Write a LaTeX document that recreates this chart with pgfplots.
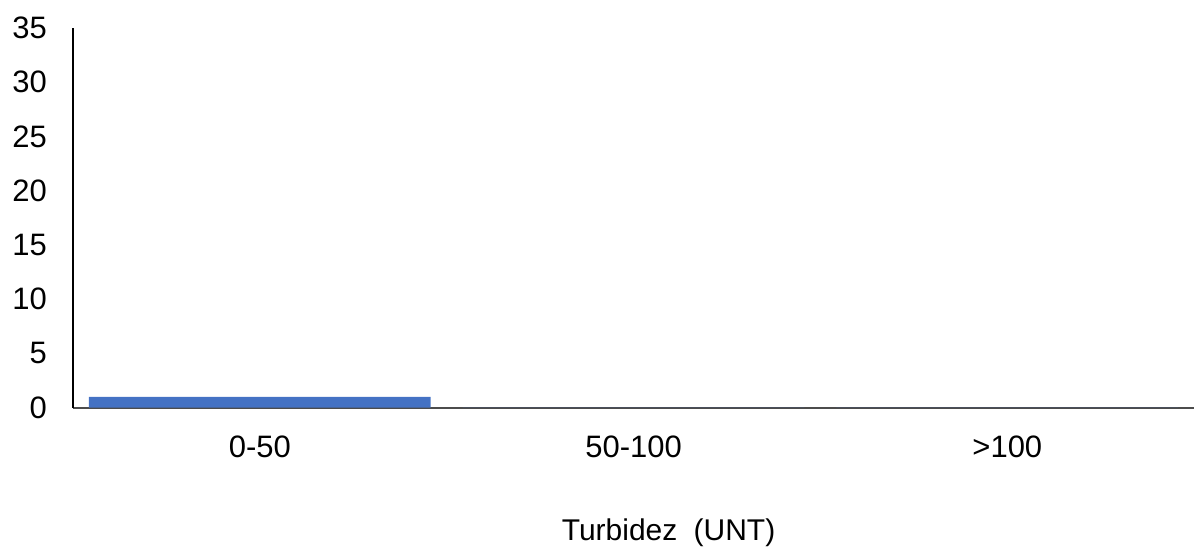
\documentclass[border=0pt]{standalone}
\usepackage{fontspec}
\setmainfont{Liberation Sans}
\usepackage{pgfplots}
\pgfplotsset{compat=1.18}
\usetikzlibrary{calc}
\definecolor{barblue}{HTML}{4472C4}
\begin{document}
\begin{tikzpicture}
\begin{axis}[
  scale only axis,
  width=561pt, height=190pt,
  xmin=-0.5, xmax=2.5,
  ymin=0, ymax=35,
  ytick={0,5,...,35},
  xtick={0,1,2},
  xticklabels={0-50,50-100,>100},
  axis x line*=bottom,
  axis y line*=left,
  axis line style={-},
  x axis line style={draw=black!70, line width=0.8pt},
  y axis line style={draw=black, line width=0.6pt},
  major tick length=0pt,
  tick label style={font=\fontsize{15.5}{18}\selectfont},
  /pgf/number format/assume math mode=true,
  yticklabel style={xshift=-9.5pt},
  xticklabel style={yshift=-10.5pt},
  xlabel={Turbidez\hspace{4pt} (UNT)},
  xlabel style={font=\fontsize{15}{18}\selectfont, yshift=-23.5pt, xshift=17.5pt},
  ybar, bar width=171pt,
]
\addplot[fill=barblue, draw=none] coordinates {(0,1) (1,0) (2,0)};
\end{axis}
\path ($(current axis.south west)+(-36.5pt,-67pt)$) rectangle ($(current axis.north east)+(0pt,14pt)$);
\end{tikzpicture}
\end{document}
